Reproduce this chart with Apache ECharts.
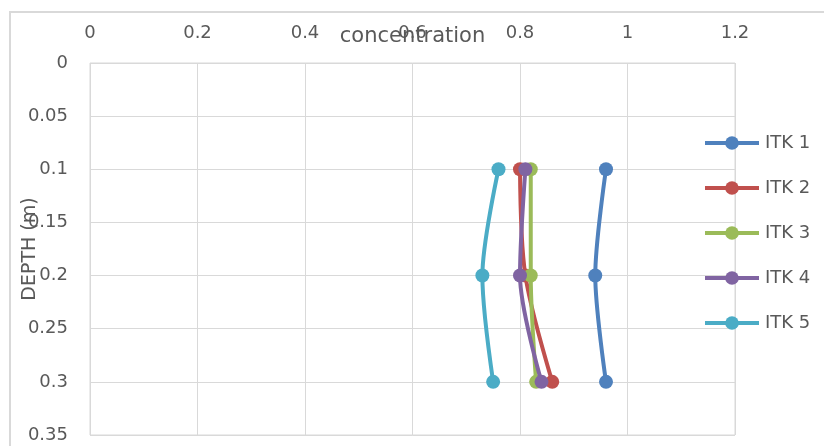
<!DOCTYPE html>
<html>
<head>
<meta charset="utf-8">
<script src="https://cdn.jsdelivr.net/npm/echarts@6/dist/echarts.min.js"></script>
<style>
  html, body { margin: 0; padding: 0; background: #ffffff; }
  #chart { width: 824px; height: 446px; }
</style>
</head>
<body>
<div id="chart"></div>
<script>
// Sampling depths (m) and measured concentration for each ITK profile
const depths = [0.1, 0.2, 0.3];
const seriesNames = ['ITK 1', 'ITK 2', 'ITK 3', 'ITK 4', 'ITK 5'];
const itk1 = [0.96, 0.94, 0.96];
const itk2 = [0.80, 0.81, 0.86];
const itk3 = [0.82, 0.82, 0.83];
const itk4 = [0.81, 0.80, 0.84];
const itk5 = [0.76, 0.73, 0.75];
const xTickLabels = ['0', '0.2', '0.4', '0.6', '0.8', '1', '1.2'];
const yTickLabels = ['0', '0.05', '0.1', '0.15', '0.2', '0.25', '0.3', '0.35'];

const palette = ['#4F81BD', '#C0504D', '#9BBB59', '#8064A2', '#4BACC6'];
const textColor = '#595959';
const gridColor = '#D9D9D9';
const fontFamily = '"DejaVu Sans", sans-serif';

const profiles = [itk1, itk2, itk3, itk4, itk5];

const series = profiles.map((vals, i) => ({
  name: seriesNames[i],
  type: 'line',
  smooth: 0.3,
  data: vals.map((c, k) => [c, depths[k]]),
  symbol: 'circle',
  symbolSize: 14,
  lineStyle: { width: 4, color: palette[i] },
  itemStyle: { color: palette[i] },
  emphasis: { disabled: true },
  z: 2 + i
}));

const chart = echarts.init(document.getElementById('chart'), null, { renderer: 'canvas' });
chart.setOption({
  animation: false,
  color: palette,
  textStyle: { fontFamily: fontFamily },
  graphic: [{
    type: 'rect',
    shape: { x: 10, y: 12, width: 840, height: 460 },
    style: { fill: null, stroke: gridColor, lineWidth: 2 },
    silent: true,
    z: -10
  }],
  grid: {
    left: 90, top: 63, width: 645, height: 372,
    show: true, borderColor: gridColor, borderWidth: 1,
    containLabel: false,
    outerBoundsMode: 'none'
  },
  legend: {
    orient: 'vertical',
    left: 698, top: 129,
    itemWidth: 54, itemHeight: 17,
    itemGap: 27,
    data: seriesNames,
    lineStyle: { width: 4 },
    textStyle: { color: textColor, fontSize: 18, fontFamily: fontFamily, padding: [0, 0, 0, 1] }
  },
  xAxis: {
    type: 'value',
    position: 'top',
    min: 0, max: 1.2, interval: 0.2,
    name: 'concentration',
    nameLocation: 'middle',
    nameGap: 16,
    nameMoveOverlap: false,
    nameTextStyle: { color: textColor, fontSize: 21, fontFamily: fontFamily },
    axisLine: { show: false },
    axisTick: { show: false },
    axisLabel: {
      color: textColor, fontSize: 18, margin: 21, fontFamily: fontFamily,
      formatter: (v) => xTickLabels[Math.round(v / 0.2)]
    },
    splitLine: { show: true, lineStyle: { color: gridColor, width: 1 } }
  },
  yAxis: {
    type: 'value',
    inverse: true,
    min: 0, max: 0.35, interval: 0.05,
    name: 'DEPTH (m)',
    nameLocation: 'middle',
    nameGap: 50,
    nameRotate: 90,
    nameMoveOverlap: false,
    nameTextStyle: { color: textColor, fontSize: 19, fontFamily: fontFamily },
    axisLine: { show: false },
    axisTick: { show: false },
    axisLabel: {
      color: textColor, fontSize: 18, margin: 22, fontFamily: fontFamily,
      formatter: (v) => yTickLabels[Math.round(v / 0.05)]
    },
    splitLine: { show: true, lineStyle: { color: gridColor, width: 1 } }
  },
  series: series
});
</script>
</body>
</html>
